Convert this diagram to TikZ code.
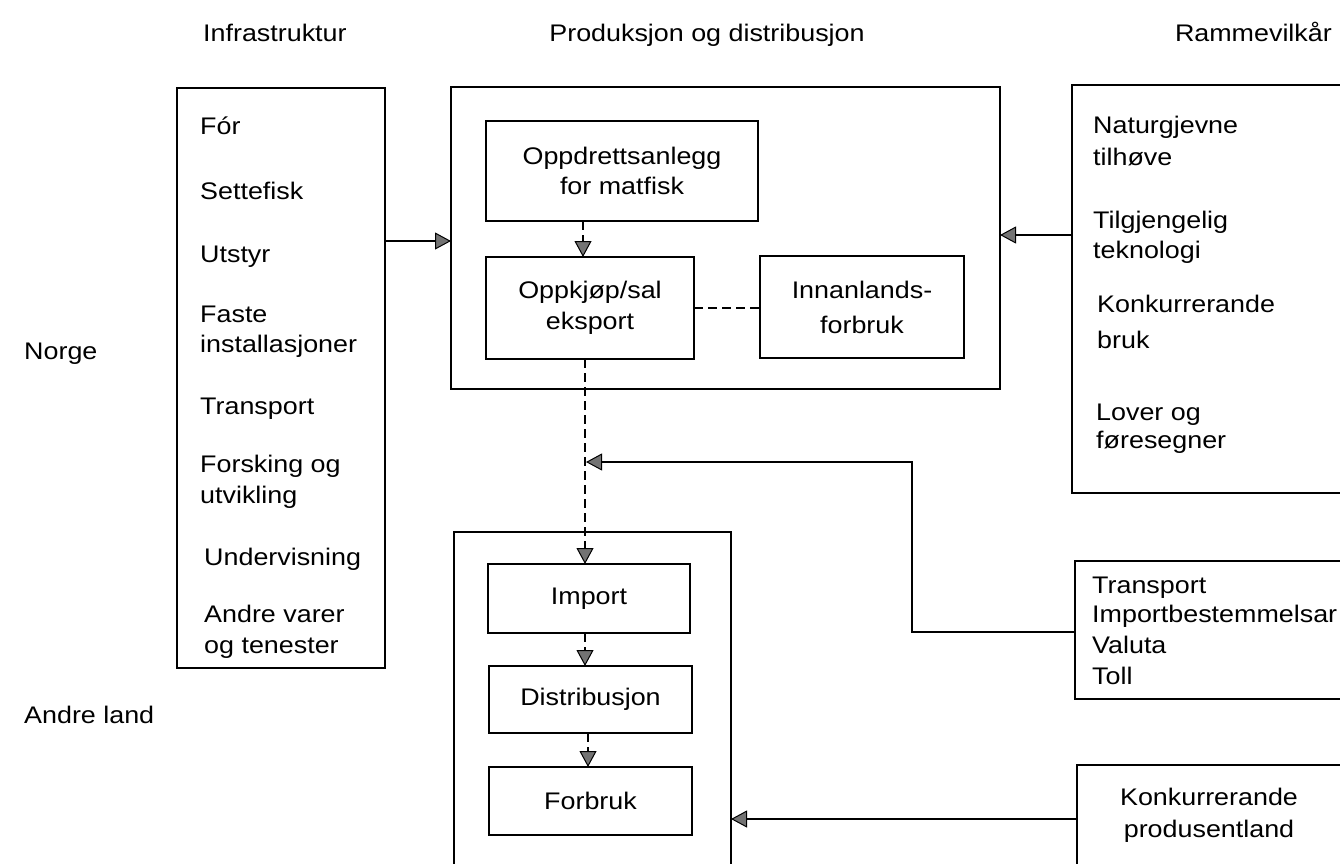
\documentclass[tikz,border=0pt]{standalone}
\usepackage{fontspec}
\setmainfont[FakeStretch=1.12]{Liberation Sans}
\usetikzlibrary{arrows.meta}
\begin{document}
\begin{tikzpicture}[x=1pt,y=-1pt,
  every node/.style={font=\fontsize{24}{30}\selectfont},
  box/.style={draw, line width=1.6pt, inner sep=0pt, outer sep=0pt, anchor=north west, align=center},
  lt/.style={anchor=base west, inner sep=0pt},
  ct/.style={anchor=base, inner sep=0pt},
  conn/.style={line width=1.6pt},
  dsh/.style={conn, dash pattern=on 9pt off 5pt},
  arr/.style={-{Triangle[length=16pt,width=17pt,fill=black!55,line width=1pt]}}]
\clip (0,0) rectangle (1340,863);
\fill[white] (0,0) rectangle (1340,863);

% titles
\node[lt] (tinfra) at (203,41) {Infrastruktur};
\node[ct] (tprod) at (707,41) {Produksjon og distribusjon};
\node[anchor=base east, inner sep=0pt] (tramme) at (1332,41) {Rammevilkår};
\node[lt] (norge) at (24,359) {Norge};
\node[lt] (andre) at (24,723) {Andre land};

% boxes
\node[box, minimum width=208pt, minimum height=580pt] (infra) at (177,88) {};
\node[box, minimum width=549pt, minimum height=302pt] (prod) at (451,87) {};
\node[box, minimum width=272pt, minimum height=100pt, font=\fontsize{24}{30}\selectfont] (oppdrett) at (486,121) {Oppdrettsanlegg\\for matfisk};
\node[box, minimum width=208pt, minimum height=102pt, font=\fontsize{24}{31}\selectfont] (oppkjop) at (486,257) {Oppkjøp/sal\\eksport};
\node[box, minimum width=204pt, minimum height=102pt, font=\fontsize{24}{35}\selectfont] (innan) at (760,256) {Innanlands-\\forbruk};
\node[box, minimum width=290pt, minimum height=408pt] (ramme) at (1072,85) {};
\node[box, minimum width=277pt, minimum height=350pt] (andrebox) at (454,532) {};
\node[box, minimum width=202pt, minimum height=69pt] (import) at (488,564) {Import};
\node[box, minimum width=203pt, minimum height=67pt] (distr) at (489,666) {Distribusjon};
\node[box, minimum width=203pt, minimum height=68pt] (forbruk) at (489,767) {Forbruk};
\node[box, minimum width=287pt, minimum height=138pt] (transp) at (1075,561) {};
\node[box, minimum width=285pt, minimum height=115pt] (konk) at (1077,765) {};

% infrastruktur list
\node[lt] (i1) at (200,134) {Fór};
\node[lt] (i2) at (200,199) {Settefisk};
\node[lt] (i3) at (200,262) {Utstyr};
\node[lt] (i4) at (200,322) {Faste};
\node[lt] (i5) at (200,352) {installasjoner};
\node[lt] (i6) at (200,414) {Transport};
\node[lt] (i7) at (200,472) {Forsking og};
\node[lt] (i8) at (200,503) {utvikling};
\node[lt] (i9) at (204,565) {Undervisning};
\node[lt] (i10) at (204,622) {Andre varer};
\node[lt] (i11) at (204,653) {og tenester};

% rammevilkar list
\node[lt] (r1) at (1093,133) {Naturgjevne};
\node[lt] (r2) at (1093,165) {tilhøve};
\node[lt] (r3) at (1093,228) {Tilgjengelig};
\node[lt] (r4) at (1093,258) {teknologi};
\node[lt] (r5) at (1097,312) {Konkurrerande};
\node[lt] (r6) at (1097,348) {bruk};
\node[lt] (r7) at (1096,420) {Lover og};
\node[lt] (r8) at (1096,448) {føresegner};

% transport list
\node[lt] (p1) at (1092,593) {Transport};
\node[lt] (p2) at (1092,622) {Importbestemmelsar};
\node[lt] (p3) at (1092,653) {Valuta};
\node[lt] (p4) at (1092,684) {Toll};

% konkurrerande
\node[ct] (k1) at (1209,805) {Konkurrerande};
\node[ct] (k2) at (1209,837) {produsentland};

% helper coordinates
\coordinate (ya) at (0,241);
\coordinate (yb) at (0,235);
\coordinate (xa) at (583,0);
\coordinate (yc) at (0,308);
\coordinate (xb) at (585,0);
\coordinate (xc) at (588,0);
\coordinate (yd) at (0,632);
\coordinate (bend1) at (912,632);
\coordinate (bend2) at (912,462);
\coordinate (join) at (586,462);
\coordinate (ye) at (0,819);

% connectors
\draw[conn, arr] (infra.east |- ya) -- (prod.west |- ya);
\draw[conn, arr] (ramme.west |- yb) -- (prod.east |- yb);
\draw[dsh, arr] (oppdrett.south -| xa) -- (oppkjop.north -| xa);
\draw[dsh] (oppkjop.east |- yc) -- (innan.west |- yc);
\draw[dsh, arr] (oppkjop.south -| xb) -- (import.north -| xb);
\draw[conn, arr] (transp.west |- yd) -- (bend1) -- (bend2) -- (join);
\draw[dsh, arr] (import.south -| xb) -- (distr.north -| xb);
\draw[dsh, arr] (distr.south -| xc) -- (forbruk.north -| xc);
\draw[conn, arr] (konk.west |- ye) -- (andrebox.east |- ye);
\end{tikzpicture}
\end{document}
